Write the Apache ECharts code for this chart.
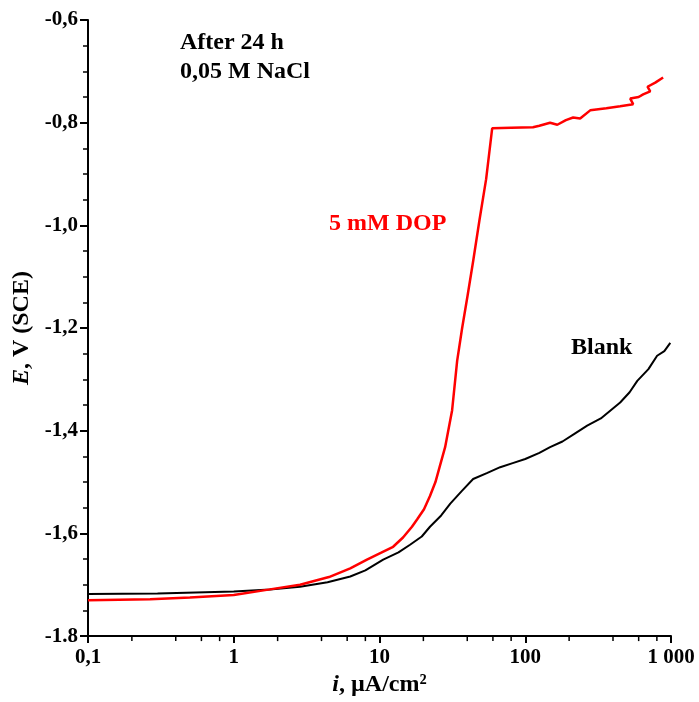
<!DOCTYPE html>
<html>
<head>
<meta charset="utf-8">
<script src="https://cdn.jsdelivr.net/npm/echarts@6/dist/echarts.min.js"></script>
<style>
  html, body { margin: 0; padding: 0; background: #fff; }
  #chart { width: 699px; height: 702px; }
</style>
</head>
<body>
<div id="chart"></div>
<script>
// Blank curve: current density (µA/cm²) and potential (V vs SCE)
const blankI = [0.1, 0.3, 1.0, 1.77, 2.85, 4.4, 6.3, 8.0, 10.6, 13.5, 16.2, 19.5, 22.2, 26.5, 30.6, 36.5, 43.9, 55, 67.3, 82, 100, 125, 148, 180, 220, 266, 330, 448, 520, 587, 700, 803, 900, 989];
const blankE = [-1.718, -1.717, -1.713, -1.709, -1.704, -1.695, -1.684, -1.672, -1.651, -1.637, -1.622, -1.606, -1.587, -1.565, -1.542, -1.518, -1.494, -1.482, -1.471, -1.463, -1.455, -1.443, -1.432, -1.421, -1.405, -1.390, -1.376, -1.345, -1.325, -1.303, -1.280, -1.254, -1.245, -1.229];

// 5 mM DOP curve (the tail loops back a little, so points are kept in order)
const dopI = [0.1, 0.267, 0.5, 1.0, 1.77, 2.85, 4.5, 6.3, 8.2, 10.2, 12.4, 14.5, 16.7, 18.1, 20.2, 22.2, 24.2, 26, 28.2, 31.5, 34.1, 36.9, 40.3, 43.9, 48.5, 53.9, 59.3, 80, 113, 125, 148, 166, 190, 213, 238, 279, 360, 448, 550, 525, 600, 644, 720, 690, 780, 883];
const dopE = [-1.730, -1.728, -1.725, -1.720, -1.709, -1.700, -1.685, -1.668, -1.651, -1.638, -1.626, -1.608, -1.587, -1.573, -1.553, -1.527, -1.500, -1.468, -1.432, -1.360, -1.264, -1.200, -1.135, -1.070, -0.990, -0.910, -0.811, -0.810, -0.809, -0.806, -0.800, -0.804, -0.795, -0.790, -0.792, -0.776, -0.772, -0.768, -0.764, -0.753, -0.750, -0.745, -0.739, -0.730, -0.722, -0.712];

// minor tick positions on the log axis
const xMinor = [0.2, 0.4, 0.6, 0.8, 2, 4, 6, 8, 20, 40, 60, 80, 200, 400, 600, 800];
const xLabels = { 0.1: '0,1', 1: '1', 10: '10', 100: '100', 1000: '1 000' };

const font = '"Liberation Serif", "Times New Roman", serif';
const chart = echarts.init(document.getElementById('chart'));

const zip = (xs, ys) => xs.map((x, k) => [x, ys[k]]);

chart.setOption({
  backgroundColor: '#fff',
  animation: false,
  grid: { left: 88, right: 28, top: 20, bottom: 62 },
  xAxis: {
    type: 'log',
    logBase: 10,
    min: 0.1,
    max: 1000,
    name: '{it|i}, µA/cm²',
    nameLocation: 'middle',
    nameGap: 36,
    nameTextStyle: {
      fontFamily: font, fontWeight: 'bold', fontSize: 24, color: '#000',
      rich: { it: { fontFamily: font, fontWeight: 'bold', fontStyle: 'italic', fontSize: 24 } }
    },
    axisLine: { lineStyle: { color: '#000', width: 2 } },
    axisTick: { length: 7, lineStyle: { color: '#000', width: 2 } },
    splitLine: { show: false },
    axisLabel: {
      fontFamily: font, fontWeight: 'bold', fontSize: 21, color: '#000', margin: 11,
      formatter: v => xLabels[v] || String(v)
    }
  },
  yAxis: {
    type: 'value',
    min: -1.8,
    max: -0.6,
    interval: 0.2,
    name: '{it|E}, V (SCE)',
    nameLocation: 'middle',
    nameRotate: 90,
    nameGap: 49,
    nameTextStyle: {
      fontFamily: font, fontWeight: 'bold', fontSize: 24, color: '#000',
      rich: { it: { fontFamily: font, fontWeight: 'bold', fontStyle: 'italic', fontSize: 24 } }
    },
    axisLine: { show: true, lineStyle: { color: '#000', width: 2 } },
    axisTick: { length: 8, lineStyle: { color: '#000', width: 2 } },
    minorTick: { show: true, splitNumber: 4, length: 5, lineStyle: { color: '#000', width: 1.5 } },
    splitLine: { show: false },
    axisLabel: {
      fontFamily: font, fontWeight: 'bold', fontSize: 21, color: '#000', margin: 10,
      formatter: v => Math.abs(v + 1.8) < 1e-9 ? '-1.8' : v.toFixed(1).replace('.', ',')
    }
  },
  series: [
    {
      name: 'Blank',
      type: 'line',
      data: zip(blankI, blankE),
      showSymbol: false,
      lineStyle: { color: '#000', width: 2 },
      z: 3
    },
    {
      name: '5 mM DOP',
      type: 'line',
      data: zip(dopI, dopE),
      showSymbol: false,
      lineStyle: { color: '#ff0000', width: 2.5 },
      z: 4
    },
    {
      name: 'minor',
      type: 'custom',
      data: xMinor.map(v => [v, -1.8]),
      clip: false,
      silent: true,
      renderItem: (params, api) => {
        const p = api.coord([api.value(0), api.value(1)]);
        return {
          type: 'line',
          shape: { x1: p[0], y1: p[1], x2: p[0], y2: p[1] + 5 },
          style: { stroke: '#000', lineWidth: 1.5 }
        };
      }
    }
  ],
  graphic: [
    { type: 'text', left: 180, top: 31, style: { text: 'After 24 h', font: 'bold 24px ' + font, fill: '#000' } },
    { type: 'text', left: 180, top: 60, style: { text: '0,05 M NaCl', font: 'bold 24px ' + font, fill: '#000' } },
    { type: 'text', left: 329, top: 212, style: { text: '5 mM DOP', font: 'bold 24px ' + font, fill: '#ff0000' } },
    { type: 'text', left: 571, top: 336, style: { text: 'Blank', font: 'bold 24px ' + font, fill: '#000' } }
  ]
});
</script>
</body>
</html>
